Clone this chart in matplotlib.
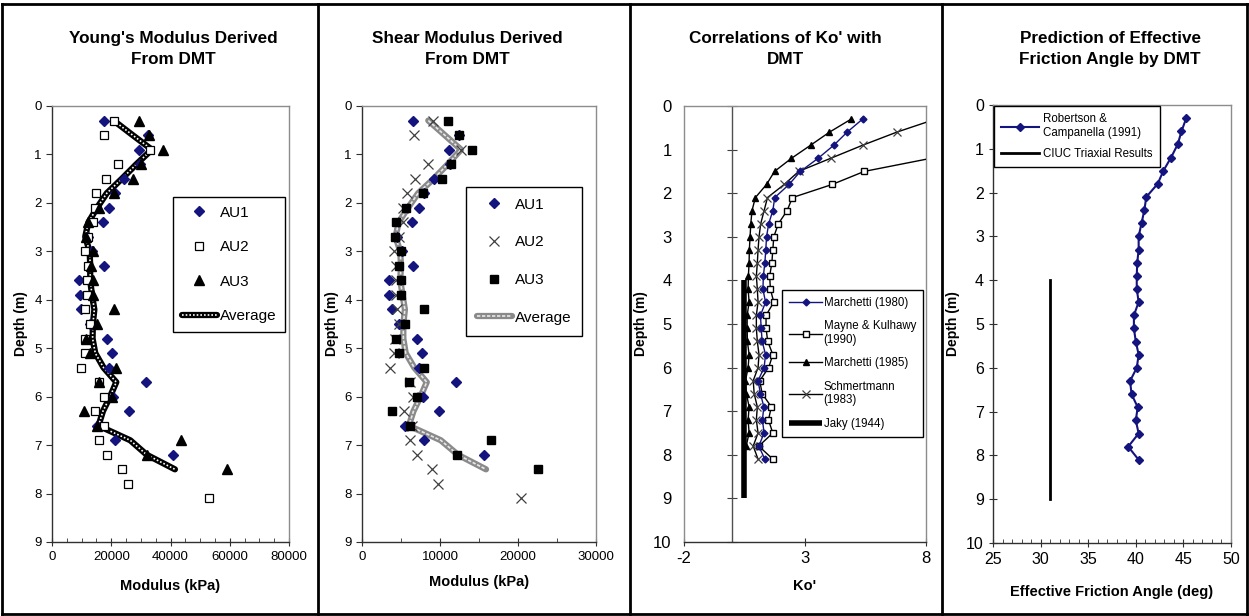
import matplotlib.pyplot as plt
from matplotlib.lines import Line2D
from matplotlib.ticker import MultipleLocator

plt.rcParams['font.family'] = ['Liberation Sans', 'DejaVu Sans']
plt.rcParams['axes.unicode_minus'] = False

NAVY = '#14147f'
GRAY_FRAME = '#8c8c8c'

# depths of the DMT readings (m)
depth = [0.3, 0.6, 0.9, 1.2, 1.5, 1.8, 2.1, 2.4, 2.7, 3.0, 3.3, 3.6, 3.9, 4.2,
         4.5, 4.8, 5.1, 5.4, 5.7, 6.0, 6.3, 6.6, 6.9, 7.2, 7.5, 7.8, 8.1]

# Young's modulus (kPa)
E_au1 = [17700, 32300, 29300, 29600, 24400, 21100, 19400, 17200, 12000, 13500,
         17400, 9200, 9500, 9900, 12900, 18600, 20200, 19300, 31800, 20500,
         26100, 15300, 21400, 41000]
E_au2 = [21000, 17600, 33000, 22200, 18300, 15000, 14400, 14000, 12300, 11300,
         12000, 11800, 11800, 11300, 12900, 11200, 11000, 9700, 15800, 17700,
         14600, 17600, 15900, 18500, 23600, 25800, 53100]
E_au3 = [29300, 32800, 37300, 30000, 27300, 21000, 15700, 12300, 11400, 13800,
         13100, 13900, 13900, 21000, 15200, 11400, 12900, 21700, 15900, 20200,
         10700, 15200, 43700, 32000, 59000]
E_avg = [20800, 27200, 33700, 28500, 23600, 18500, 15200, 12300, 11200, 12700,
         12900, 12900, 13500, 14300, 13800, 13700, 14600, 17400, 21700, 19600,
         17200, 15700, 26400, 32000, 41500]

# shear modulus (kPa)
G_au1 = [6500, 12400, 11100, 11300, 9200, 8000, 7300, 6400, 4500, 5100, 6500,
         3400, 3500, 3800, 4700, 7000, 7700, 7300, 12100, 7800, 9900, 5500,
         8000, 15700]
G_au2 = [9100, 6700, 12700, 8500, 6800, 5800, 5300, 5300, 4700, 4100, 4400,
         4300, 4300, 4500, 4700, 4200, 4100, 3600, 6100, 6500, 5400, 6400,
         6100, 7100, 9000, 9800, 20400]
G_au3 = [11000, 12400, 14100, 11400, 10200, 7800, 5700, 4400, 4200, 5000, 4700,
         5000, 5000, 7900, 5500, 4300, 4700, 8000, 6000, 7000, 3800, 6100,
         16600, 12200, 22600]
G_avg = [8500, 10600, 12700, 11000, 9200, 7200, 5900, 4700, 4300, 4900, 5000,
         4900, 5200, 5500, 5300, 5300, 5600, 6700, 8300, 7500, 6600, 6000,
         10100, 12300, 15900]

# Ko' correlations
k_march80 = [5.38, 4.74, 4.19, 3.54, 2.81, 2.34, 1.75, 1.67, 1.50, 1.41, 1.38,
             1.34, 1.28, 1.26, 1.37, 1.16, 1.19, 1.23, 1.37, 1.31, 1.06, 1.16,
             1.30, 1.24, 1.31, 1.09, 1.34]
k_mayne = [8.20, 5.45, 4.12, 2.48, 2.26, 1.90, 1.71, 1.67, 1.63, 1.54, 1.57,
           1.71, 1.39, 1.39, 1.46, 1.67, 1.50, 1.13, 1.23, 1.61, 1.49, 1.67,
           1.09, 1.67]
k_march85 = [4.91, 4.01, 3.23, 2.44, 1.74, 1.41, 0.95, 0.81, 0.76, 0.73, 0.70,
             0.69, 0.66, 0.65, 0.69, 0.61, 0.61, 0.62, 0.69, 0.65, 0.54, 0.58,
             0.69, 0.65, 0.69, 0.57]
k_schm = [8.40, 6.79, 5.38, 4.06, 2.74, 2.14, 1.45, 1.31, 1.17, 1.10, 1.06,
          1.03, 0.99, 1.03, 1.06, 0.99, 0.99, 1.03, 1.10, 1.06, 0.86, 0.90,
          1.03, 0.99, 1.06, 0.86, 1.06]
jaky_depth = [4.0, 9.0]
k_jaky = [0.47, 0.47]
ko_ticks = [-2, 3, 8]

# friction angle (deg)
phi_rc = [45.3, 44.8, 44.4, 43.7, 42.9, 42.3, 41.1, 40.9, 40.6, 40.3, 40.3,
          40.15, 40.1, 40.1, 40.3, 39.8, 39.8, 40.0, 40.3, 40.1, 39.4, 39.55,
          40.2, 40.0, 40.3, 39.2, 40.3]
ciuc_depth = [4.0, 9.0]
phi_ciuc = [31.0, 31.0]

titles = ["Young's Modulus Derived\nFrom DMT",
          "Shear Modulus Derived\nFrom DMT",
          "Correlations of Ko' with\nDMT",
          "Prediction of Effective\nFriction Angle by DMT"]

W, H = 1249, 616
fig = plt.figure(figsize=(W / 100, H / 100), dpi=100)
fig.patch.set_facecolor('white')


def px_axes(x0, y0, x1, y1):
    return fig.add_axes([x0 / W, 1 - y1 / H, (x1 - x0) / W, (y1 - y0) / H])


def frame(ax, dark=('left', 'bottom')):
    for side, sp in ax.spines.items():
        sp.set_color('#303030' if side in dark else GRAY_FRAME)
        sp.set_linewidth(1.0)


def avg_line(ax, x, y, base, dots, dash):
    l1, = ax.plot(x, y, color=base, lw=4.5, solid_capstyle='round', zorder=3)
    l2, = ax.plot(x, y, color=dots, lw=1.2, ls=dash, zorder=4)
    return (l1, l2)


# ---- panel 1: Young's modulus
ax1 = px_axes(52, 106, 289, 542)
d1 = depth[:len(E_au1)]
h1, = ax1.plot(E_au1, d1, 'D', color=NAVY, ms=5, ls='none', zorder=5)
h2, = ax1.plot(E_au2, depth, 's', mfc='white', mec='black', mew=0.9, ms=6, ls='none', zorder=5)
h3, = ax1.plot(E_au3, depth[:len(E_au3)], '^', color='black', ms=6.5, ls='none', zorder=5)
h4 = avg_line(ax1, E_avg, depth[:len(E_avg)], 'black', 'white', (0, (1, 1.2)))
ax1.set_xlim(0, 80000)
ax1.set_ylim(9, 0)
ax1.xaxis.set_major_locator(MultipleLocator(20000))
ax1.xaxis.set_minor_locator(MultipleLocator(5000))
ax1.legend([h1, h2, h3, h4], ['AU1', 'AU2', 'AU3', 'Average'], loc='upper left',
           bbox_to_anchor=(0.511, 0.791), borderaxespad=0, fontsize=11,
           labelspacing=1.35, handletextpad=0.2, borderpad=0.55,
           handlelength=2.3, fancybox=False, edgecolor='black', framealpha=1)
ax1.set_xlabel('Modulus (kPa)')

# ---- panel 2: shear modulus
ax2 = px_axes(362, 106, 596, 542)
g1, = ax2.plot(G_au1, depth[:len(G_au1)], 'D', color=NAVY, ms=5, ls='none', zorder=5)
g2, = ax2.plot(G_au2, depth, 'x', color='#404040', mew=0.9, ms=6.5, ls='none', zorder=5)
g3, = ax2.plot(G_au3, depth[:len(G_au3)], 's', color='black', ms=6, ls='none', zorder=5)
g4 = avg_line(ax2, G_avg, depth[:len(G_avg)], '#8a8a8a', '#e8e8e8', (0, (2, 1)))
ax2.set_xlim(0, 30000)
ax2.set_ylim(9, 0)
ax2.xaxis.set_major_locator(MultipleLocator(10000))
ax2.xaxis.set_minor_locator(MultipleLocator(5000))
ax2.legend([g1, g2, g3, g4], ['AU1', 'AU2', 'AU3', 'Average'], loc='upper left',
           bbox_to_anchor=(0.444, 0.814), borderaxespad=0, fontsize=11,
           labelspacing=1.55, handletextpad=0.2, borderpad=0.7,
           handlelength=2.3, fancybox=False, edgecolor='black', framealpha=1)
ax2.set_xlabel('Modulus (kPa)')

for ax in (ax1, ax2):
    ax.yaxis.set_major_locator(MultipleLocator(1))
    ax.tick_params(axis='both', which='major', labelsize=9.5, direction='out', length=4, color='#303030')
    ax.tick_params(axis='x', which='major', direction='inout', length=6)
    ax.tick_params(axis='x', which='minor', direction='in', length=3, color='#303030')
    frame(ax)
    ax.set_ylabel('Depth (m)')

# ---- panel 3: Ko'
ax3 = px_axes(684, 106, 926, 542)
ax3.axvline(0, color='#505050', lw=1.0, zorder=1)
ax3.plot(k_march80, depth, '-D', color=NAVY, ms=3.5, lw=1.0, label='Marchetti (1980)', zorder=6)
ax3.plot(k_mayne, depth[3:], '-s', color='black', mfc='white', mec='black', ms=5,
         lw=1.0, label='Mayne & Kulhawy\n(1990)', zorder=4)
ax3.plot(k_march85, depth[:len(k_march85)], '-^', color='black', ms=5, lw=1.0,
         label='Marchetti (1985)', zorder=5)
ax3.plot(k_schm, depth, '-x', color='black', mec='#404040', ms=6, mew=0.9, lw=1.0,
         label='Schmertmann\n(1983)', zorder=4)
ax3.plot(k_jaky, jaky_depth, '-', color='black', lw=4, solid_capstyle='butt',
         label='Jaky (1944)', zorder=3)
ax3.set_xlim(-2, 8)
ax3.set_ylim(10, 0)
ax3.set_xticks(ko_ticks)
ax3.yaxis.set_major_locator(MultipleLocator(1))
ax3.tick_params(axis='y', length=0, labelsize=12, pad=9)
ax3.tick_params(axis='x', direction='inout', length=6, labelsize=12, color='#303030')
frame(ax3, dark=('bottom',))
ax3y = ax3.secondary_yaxis(0.2)
ax3y.yaxis.set_major_locator(MultipleLocator(1))
ax3y.tick_params(direction='inout', length=7, color='#404040', labelleft=False)
ax3y.spines['left'].set_visible(False)
ax3.legend(loc='upper left', bbox_to_anchor=(0.405, 0.578), borderaxespad=0,
           fontsize=8.3, labelspacing=0.98, handletextpad=0.1, handlelength=2.9,
           borderpad=0.6, fancybox=False, edgecolor='black', framealpha=1)
ax3.set_xlabel("Ko'")
ax3.set_ylabel('Depth (m)')

# ---- panel 4: friction angle
ax4 = px_axes(993, 105, 1231, 543)
ax4.plot(phi_rc, depth, '-D', color=NAVY, ms=4.5, lw=1.5,
         label='Robertson &\nCampanella (1991)', zorder=5)
ax4.plot(phi_ciuc, ciuc_depth, '-', color='black', lw=2, label='CIUC Triaxial Results')
ax4.set_xlim(25, 50)
ax4.set_ylim(10, 0)
ax4.xaxis.set_major_locator(MultipleLocator(5))
ax4.xaxis.set_minor_locator(MultipleLocator(1))
ax4.yaxis.set_major_locator(MultipleLocator(1))
ax4.tick_params(axis='both', which='major', labelsize=11.5, direction='inout', length=6, color='#303030')
ax4.tick_params(axis='x', which='minor', direction='in', length=3, color='#303030')
frame(ax4)
ax4.legend(loc='upper left', bbox_to_anchor=(0.004, 0.998), borderaxespad=0,
           fontsize=8.3, labelspacing=0.75, handletextpad=0.3, handlelength=3.3,
           borderpad=0.65, fancybox=False, edgecolor='black', framealpha=1)
ax4.set_xlabel('Effective Friction Angle (deg)')
ax4.set_ylabel('Depth (m)')

for ax in (ax1, ax2, ax3, ax4):
    ax.xaxis.label.set_fontweight('bold')
    ax.yaxis.label.set_fontweight('bold')
    ax.xaxis.label.set_fontsize(10.5)
    ax.yaxis.label.set_fontsize(10)

# label positions (axes coordinates)
ax1.xaxis.set_label_coords(0.5, -0.085)
ax1.yaxis.set_label_coords(-0.10, 0.5)
ax2.xaxis.set_label_coords(0.5, -0.075)
ax2.yaxis.set_label_coords(-0.10, 0.5)
ax3.xaxis.set_label_coords(0.5, -0.085)
ax3.yaxis.set_label_coords(-0.15, 0.5)
ax4.xaxis.set_label_coords(0.5, -0.095)
ax4.yaxis.set_label_coords(-0.14, 0.5)

# titles
for cx, t in zip([173, 467, 785, 1110], titles):
    fig.text(cx / W, 1 - 49 / H, t, ha='center', va='center', fontsize=12.3,
             fontweight='bold', linespacing=1.5)

# outer frame and panel dividers
for x in [2, 318, 630, 942, 1247]:
    fig.add_artist(Line2D([x / W, x / W], [1 - 614 / H, 1 - 4 / H],
                          transform=fig.transFigure, color='black', lw=2))
for y in [4, 614]:
    fig.add_artist(Line2D([2 / W, 1247 / W], [1 - y / H, 1 - y / H],
                          transform=fig.transFigure, color='black', lw=2))

fig.savefig('out.png', dpi=100, facecolor='white')
